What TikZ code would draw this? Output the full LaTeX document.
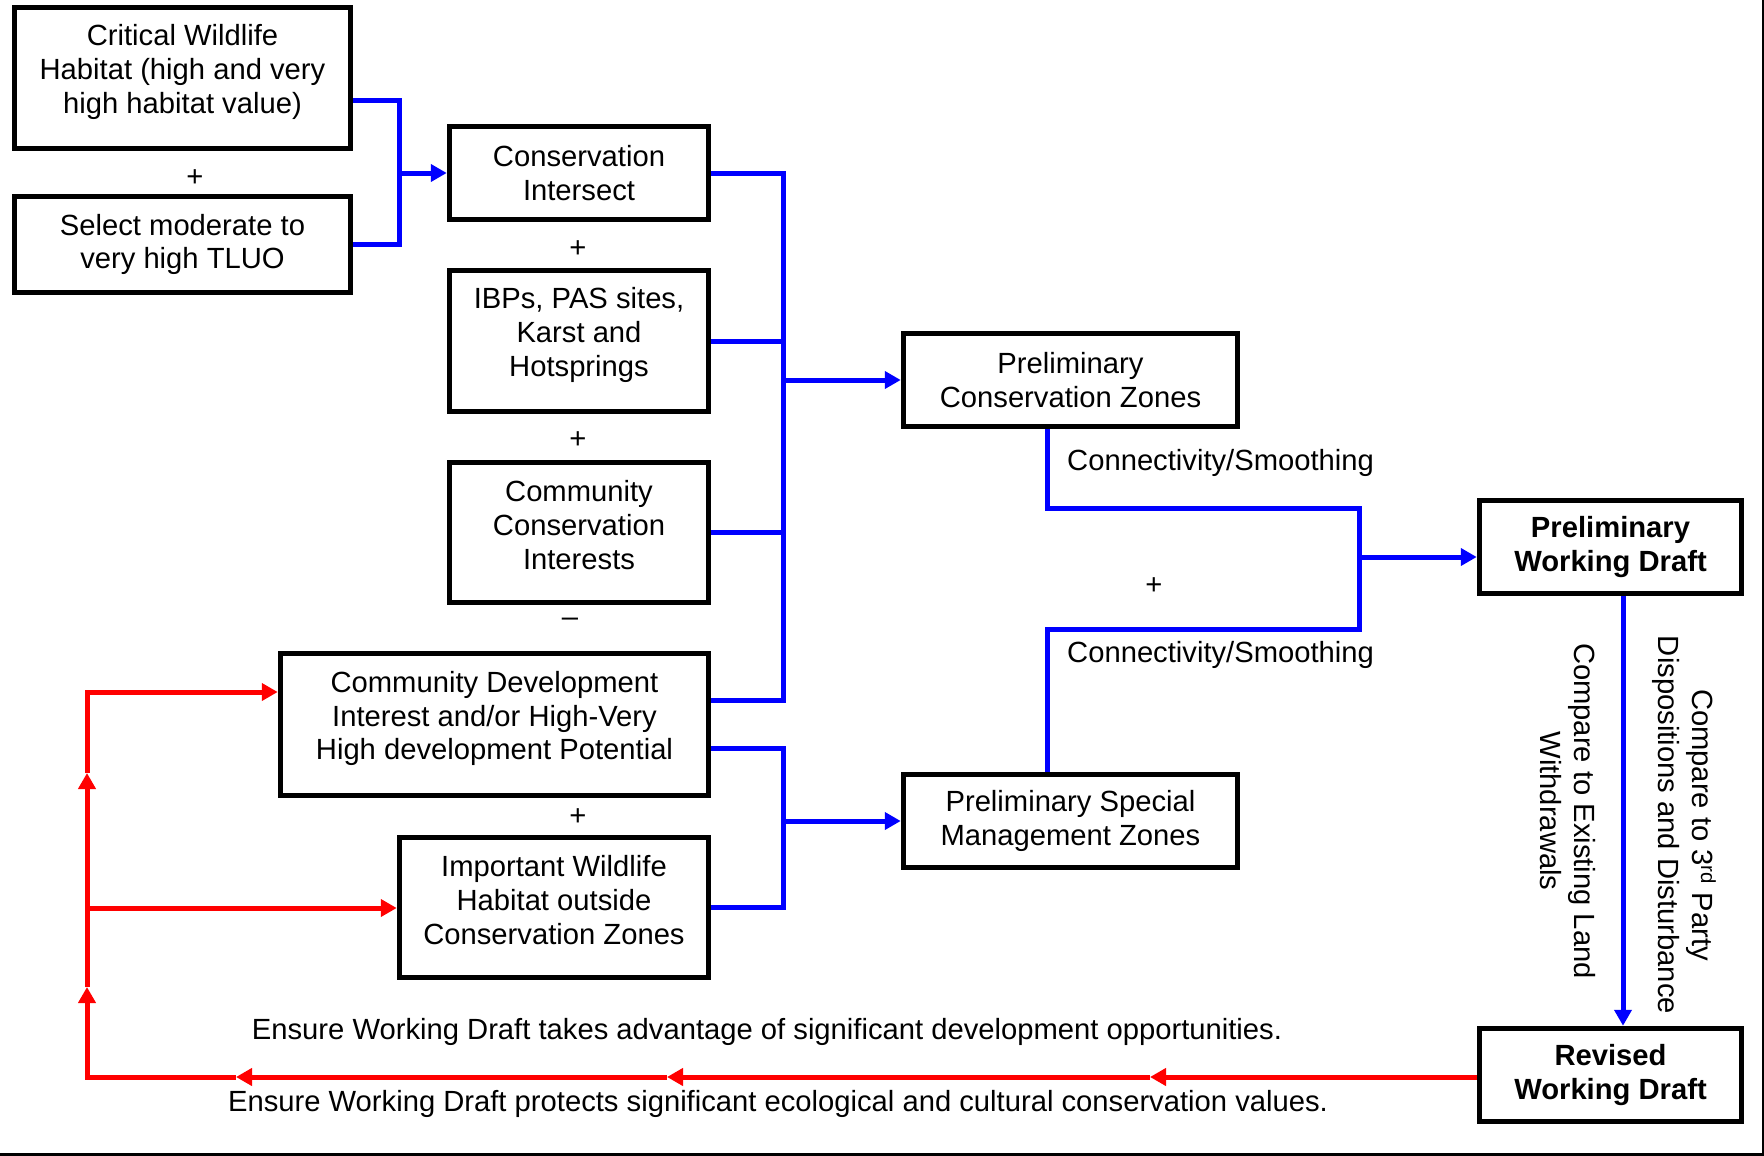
\documentclass[tikz,border=0pt]{standalone}
\usepackage{fontspec}
\setmainfont{Liberation Sans}
\usetikzlibrary{arrows.meta}

\tikzset{
  box/.style={draw, line width=5.5pt, inner sep=0pt},
  txt/.style={inner sep=0pt, align=center, font=\fontsize{29.2}{33.75}\selectfont},
  bus/.style={draw=blue, line width=5pt},
  fb/.style={draw=red, line width=5pt},
  tip/.style={-{Triangle[length=16pt,width=17pt]}},
}

\begin{document}
\begin{tikzpicture}[x=1pt, y=-1pt]

  %% ════ 框（boxes）════
  \node[box, minimum width=336pt, minimum height=141pt] (cwh) at (182.5,78) {};
  \node[txt] (cwh-t) at ([yshift=6pt]cwh.center) {Critical Wildlife\\Habitat (high and very\\high habitat value)};
  \node[box, txt, minimum width=336pt, minimum height=96pt] (sel) at (182.5,244.5) {Select moderate to\\very high TLUO};

  \node[box, txt, minimum width=259pt, minimum height=93pt] (ci) at (579,173) {Conservation\\Intersect};
  \node[box, minimum width=259pt, minimum height=141pt] (ibp) at (579,341) {};
  \node[txt] (ibp-t) at ([yshift=6pt]ibp.center) {IBPs, PAS sites,\\Karst and\\Hotsprings};
  \node[box, minimum width=259pt, minimum height=140pt] (cci) at (579,532.5) {};
  \node[txt] (cci-t) at ([yshift=7.5pt]cci.center) {Community\\Conservation\\Interests};
  \node[box, minimum width=428pt, minimum height=142pt] (cd) at (494.5,724.5) {};
  \node[txt] (cd-t) at ([yshift=6pt]cd.center) {Community Development\\Interest and/or High-Very\\High development Potential};
  \node[box, minimum width=309pt, minimum height=140pt] (iw) at (554,907.5) {};
  \node[txt] (iw-t) at ([yshift=7.5pt]iw.center) {Important Wildlife\\Habitat outside\\Conservation Zones};

  \node[box, txt, minimum width=334pt, minimum height=93pt] (pcz) at (1070.5,380) {Preliminary\\Conservation Zones};
  \node[box, txt, minimum width=334pt, minimum height=93pt] (psmz) at (1070.5,821) {Preliminary Special\\Management Zones};

  \node[box, txt, font=\fontsize{29.2}{33.75}\selectfont\bfseries, minimum width=262pt, minimum height=93pt] (pwd) at (1610.5,547) {Preliminary\\Working Draft};
  \node[box, txt, font=\fontsize{29.2}{33.75}\selectfont\bfseries, minimum width=262pt, minimum height=93pt] (rwd) at (1610.5,1075) {Revised\\Working Draft};

  %% ════ 加减号 ════
  \node[txt] (p1) at (195,178) {+};
  \node[txt] (p2) at (578,249) {+};
  \node[txt] (p3) at (578,440) {+};
  \node[txt] (m1) at (570,622) {\textendash};
  \node[txt] (p4) at (578,817) {+};
  \node[txt] (p5) at (1154,586) {+};

  %% ════ 蓝线（合并）════
  \coordinate (j1) at (399,173);
  \coordinate (j2) at (783,380);
  \coordinate (j3) at (783,821);
  \coordinate (j4) at (1359,557);
  \coordinate (k1) at (1359,508);
  \coordinate (k2) at (1359,629);

  \draw[bus] ([yshift=-22pt]cwh.east) -| (j1) |- (sel.east);
  \draw[bus, tip] (j1) -- (ci.west);

  \draw[bus] (ci.east) -| (j2) |- ([yshift=24pt]cd.east);
  \draw[bus] (ibp.east) -- (ibp.east -| j2);
  \draw[bus] (cci.east) -- (cci.east -| j2);
  \draw[bus, tip] (j2) -- (pcz.west);

  \draw[bus] ([yshift=-23.5pt]cd.east) -| (j3) |- (iw.east);
  \draw[bus, tip] (j3) -- (psmz.west);

  \draw[bus] ([xshift=-23.5pt]pcz.south) |- (k1) -- (k2) -| ([xshift=-23.5pt]psmz.north);
  \draw[bus, tip] (j4) -- (j4 -| pwd.west);
  \node[txt, anchor=west] (cs1) at (1067,463) {Connectivity/Smoothing};
  \node[txt, anchor=west] (cs2) at (1067,655) {Connectivity/Smoothing};

  \draw[bus, tip] ([xshift=12.5pt]pwd.south) -- ([xshift=12.5pt]rwd.north);
  \node[txt, rotate=-90] (cmp1) at (1568,811) {Compare to Existing Land\\Withdrawals};
  \node[txt, rotate=-90] (cmp2) at (1684,825) {Compare to 3\textsuperscript{rd} Party\\Dispositions and Disturbance};

  %% ════ 红线（反馈）════
  \coordinate (r0) at (87,1077);
  \coordinate (r1) at (87,908);
  \coordinate (r2) at (87,692);
  \coordinate (a1) at (1150,1077);
  \coordinate (a2) at (667,1077);
  \coordinate (a3) at (236,1077);
  \coordinate (a4) at (87,987);
  \coordinate (a5) at (87,773);

  \draw[fb, tip] (rwd.west |- r0) -- (a1);
  \draw[fb, tip] (a1) -- (a2);
  \draw[fb, tip] (a2) -- (a3);
  \draw[fb, tip] (a3) -- (r0) -- (a4);
  \draw[fb, tip] (a4) -- (r1) -- (a5);
  \draw[fb, tip] (a5) -- (r2) -- (r2 -| cd.west);
  \draw[fb, tip] (r1) -- (r1 -| iw.west);

  \node[txt] (ens1) at (767,1032) {Ensure Working Draft takes advantage of significant development opportunities.};
  \node[txt] (ens2) at (778,1104) {Ensure Working Draft protects significant ecological and cultural conservation values.};

  %% ════ 页边线 ════
  \draw[line width=3pt] (0,1154.5) -- (1763,1154.5);
  \draw[line width=2pt] (1763,1156) -- (1763,0);

  \pgfresetboundingbox
  \path[use as bounding box] (0,0) rectangle (1764,1156);
\end{tikzpicture}
\end{document}
